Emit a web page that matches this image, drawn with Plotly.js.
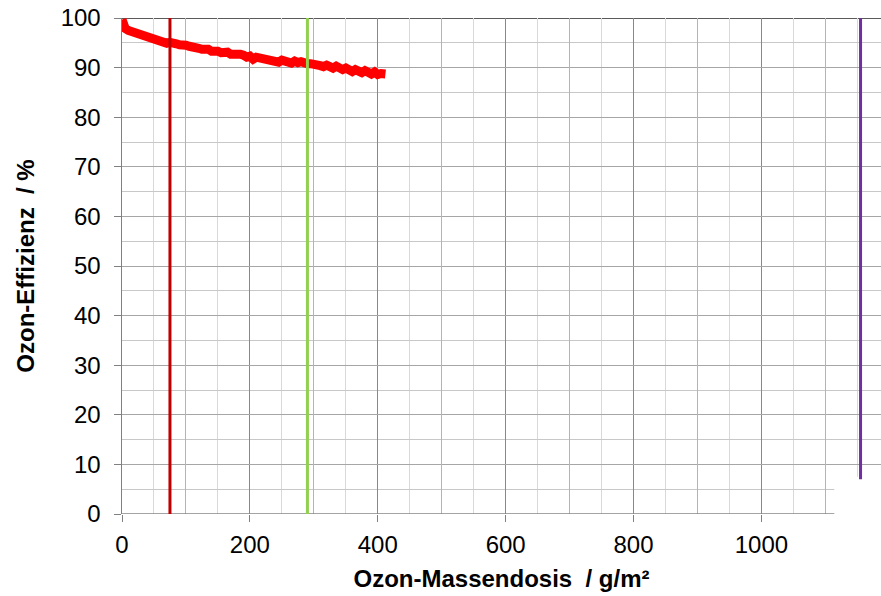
<!DOCTYPE html>
<html><head><meta charset="utf-8">
<script src="https://cdn.plot.ly/plotly-3.0.1.min.js"></script>
<style>html,body{margin:0;padding:0;background:#fff}#chart{width:881px;height:596px}</style>
</head><body><div id="chart"></div>
<script>
// Ozon-Massendosis (g/m²) and Ozon-Effizienz (%)
const doseX = [0,2,5,10,15,20,25,30,35,40,45,50,55,60,65,70,75,80,85,90,95,100,105,110,115,120,125,130,135,140,145,150,155,160,165,170,175,180,185,190,195,200,205,210,215,220,225,230,235,240,245,250,255,260,265,270,275,280,285,290,295,300,305,310,315,320,325,330,335,340,345,350,355,360,365,370,375,380,385,390,395,400,405,409,412];
const efficiencyY = [99.7,98.2,97.9,97.5,97.3,96.8,96.8,96.4,96.4,95.9,96.0,95.6,95.4,95.5,95.1,94.9,95.1,94.7,94.8,94.6,94.3,94.5,94.3,94.0,94.2,93.9,93.7,93.9,93.7,93.3,93.5,93.3,93.0,93.2,93.1,92.7,92.8,92.5,92.7,92.5,92.1,92.3,91.7,92.1,92.0,91.7,91.8,91.4,91.6,91.4,91.1,91.5,91.3,91.2,90.9,91.3,91.0,91.2,90.9,90.8,90.8,90.5,90.7,90.4,90.2,90.5,90.2,89.9,90.3,89.9,89.6,89.9,89.6,89.2,89.6,89.3,89.0,89.4,89.0,88.7,89.1,88.6,88.8,88.5,88.7];

// vertical marker lines
const markerX = [75, 290, 1155];
const markerTop = [100, 100, 100];
const markerBottom = [0, 0, 7];
const markerColors = ['#c00000', '#92d050', '#7030a0'];

const xTickVals = [0, 200, 400, 600, 800, 1000];
const xTickText = ['0', '200', '400', '600', '800', '1000'];
const yTickVals = [0,10,20,30,40,50,60,70,80,90,100];

const xMax = 1187;
const axisEnd = 1114;

const font = {family: 'Liberation Sans, Arial, sans-serif', size: 24, color: '#000'};

const traces = [{
  x: doseX, y: efficiencyY, type: 'scatter', mode: 'lines',
  line: {color: '#ff0000', width: 9}, hoverinfo: 'skip', showlegend: false,
  xaxis: 'x', yaxis: 'y'
}];
markerX.forEach((mx, i) => {
  traces.push({
    x: [mx, mx], y: [markerBottom[i], markerTop[i]], type: 'scatter', mode: 'lines',
    line: {color: markerColors[i], width: 3}, showlegend: false, hoverinfo: 'skip',
    xaxis: 'x2', yaxis: 'y'
  });
});

const layout = {
  width: 881, height: 596,
  margin: {l: 122, r: 0, t: 18, b: 82, pad: 0},
  paper_bgcolor: '#fff', plot_bgcolor: '#fff',
  font: font, showlegend: false,
  xaxis: {
    range: [0, xMax], tickvals: xTickVals, ticktext: xTickText,
    showgrid: true, gridcolor: '#888888', gridwidth: 1,
    minor: {dtick: 50, tick0: 0, showgrid: true, gridcolor: '#d9d9d9', gridwidth: 1},
    ticks: 'outside', ticklen: 7, tickcolor: '#808080', tickwidth: 1,
    showline: false, zeroline: false, tickfont: font, ticklabelstandoff: 2,
    title: {text: '<b>Ozon-Massendosis  / g/m²</b>', font: font, standoff: 13}
  },
  xaxis2: {
    overlaying: 'x', range: [0, xMax], tick0: 100, dtick: 200,
    showgrid: true, gridcolor: '#b4b4b4', gridwidth: 1,
    showticklabels: false, ticks: '', showline: false, zeroline: false
  },
  yaxis: {
    range: [0, 100], tickvals: yTickVals,
    showgrid: true, gridcolor: '#a6a6a6', gridwidth: 1,
    minor: {dtick: 5, tick0: 0, showgrid: true, gridcolor: '#c8c8c8', gridwidth: 1},
    ticks: 'outside', ticklen: 7, tickcolor: '#808080', tickwidth: 1,
    showline: true, linecolor: '#808080', linewidth: 1.5, zeroline: false,
    tickfont: font, ticklabelstandoff: 8,
    title: {text: '<b>Ozon-Effizienz  / %</b>', font: font, standoff: 19}
  },
  shapes: [
    {type: 'rect', xref: 'x', yref: 'y', x0: axisEnd, x1: xMax, y0: -1, y1: 7.5,
     fillcolor: '#fff', line: {width: 0}, layer: 'between'},
    {type: 'line', xref: 'x', yref: 'y', x0: 0, x1: axisEnd, y0: 0, y1: 0,
     line: {color: '#868686', width: 1.5}, layer: 'between'},
    {type: 'line', xref: 'paper', yref: 'y', x0: 0, x1: 1, y0: 100, y1: 100,
     line: {color: '#5a5a5a', width: 2}, layer: 'between'}
  ]
};

Plotly.newPlot('chart', traces, layout, {displayModeBar: false, staticPlot: true});
</script></body></html>
